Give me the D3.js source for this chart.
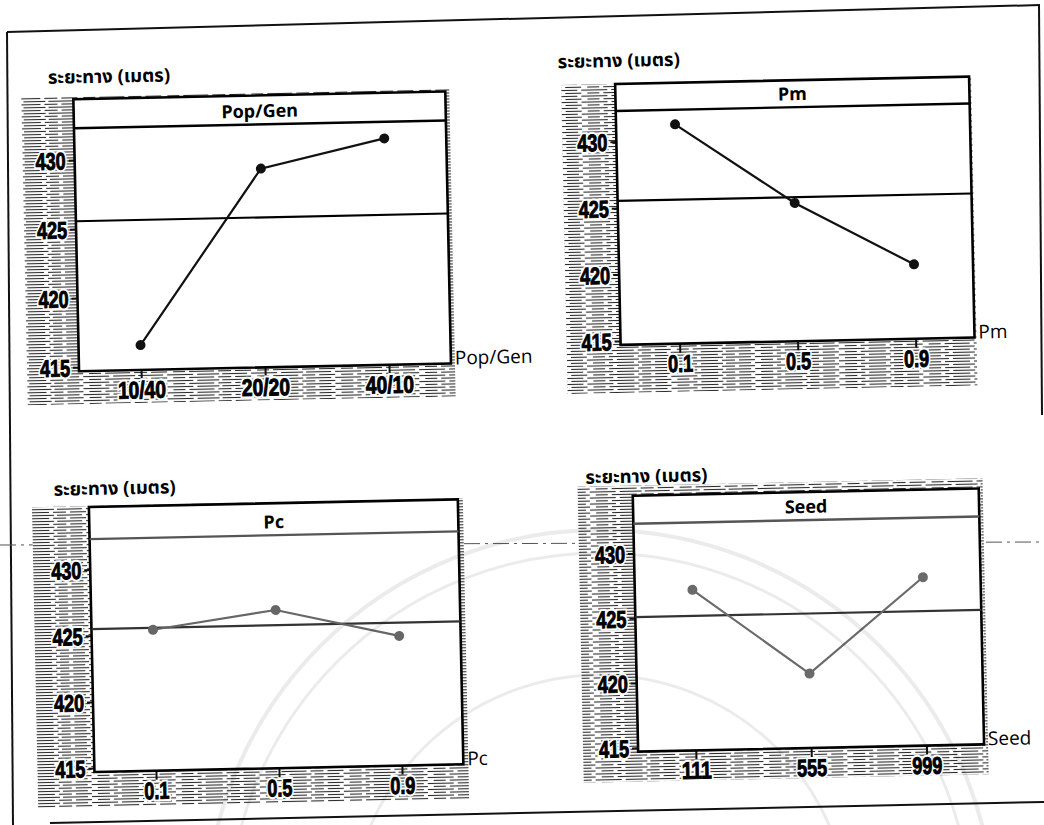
<!DOCTYPE html>
<html>
<head>
<meta charset="utf-8">
<script src="https://cdn.jsdelivr.net/npm/d3@7"></script>
<style>
  body { margin: 0; background: #fff; }
  svg { display: block; }
</style>
</head>
<body>
<svg id="chart" width="1044" height="825"></svg>
<script>
// Main effects plots: mean route distance for each GA parameter level

const yAxisTitle = "ระยะทาง (เมตร)";
const yTicks = [415, 420, 425, 430];
const yDomain = [414.7, 432.3];

const popGenLevels = ["10/40", "20/20", "40/10"];
const popGenMeans  = [416.5, 429.1, 431.1];

const pmLevels = ["0.1", "0.5", "0.9"];
const pmMeans  = [431.2, 425.1, 420.3];

const pcLevels = ["0.1", "0.5", "0.9"];
const pcMeans  = [425.35, 426.65, 424.5];

const seedLevels = ["111", "555", "999"];
const seedMeans  = [427.1, 420.45, 427.7];

const factorNames = ["Pop/Gen", "Pm", "Pc", "Seed"];
const factorLevels = [popGenLevels, pmLevels, pcLevels, seedLevels];
const factorMeans = [popGenMeans, pmMeans, pcMeans, seedMeans];

// panel frames (plot box, title strip, shaded tick area, y title position)
const layout = [
  { x0: 80,  x1: 452, top: 90,  strip: 119, bottom: 362, shade: [28, 87, 456, 395],  title: [55, 74],   ink: "#111" },
  { x0: 622, x1: 976, top: 86,  strip: 113, bottom: 347, shade: [568, 86, 978, 395], title: [565, 69],  ink: "#111" },
  { x0: 87,  x1: 456, top: 498, strip: 530, bottom: 763, shade: [30, 497, 461, 798], title: [52, 486],  ink: "#666" },
  { x0: 631, x1: 977, top: 498, strip: 526, bottom: 754, shade: [576, 488, 981, 784], title: [584, 485], ink: "#6a6a6a" }
];

const svg = d3.select("#chart");
const defs = svg.append("defs");

// halftone-like horizontal dash texture behind the axis labels
const pat = defs.append("pattern")
  .attr("id", "dashfill")
  .attr("patternUnits", "userSpaceOnUse")
  .attr("width", 84).attr("height", 6);
pat.append("rect").attr("width", 84).attr("height", 6).attr("fill", "#fff");
const dashRows = [
  { y: 1.5, segs: [[0, 26], [30, 52], [55, 80]] },
  { y: 4.5, segs: [[6, 18], [22, 47], [51, 64], [68, 84]] }
];
dashRows.forEach(r => r.segs.forEach(s => {
  pat.append("line")
    .attr("x1", s[0]).attr("x2", s[1])
    .attr("y1", r.y).attr("y2", r.y)
    .attr("stroke", "#2a2a2a").attr("stroke-width", 1.1);
}));

// page border and fold line
const page = svg.append("g").attr("fill", "none").attr("stroke", "#111");
page.append("path").attr("d", "M7,32 L1040,5").attr("stroke-width", 2);
page.append("path").attr("d", "M7,32 L13,825").attr("stroke-width", 2);
page.append("path").attr("d", "M1039,5 L1042,415").attr("stroke-width", 2);
page.append("path").attr("d", "M50,823 L1044,802").attr("stroke-width", 2);
page.append("path").attr("d", "M0,545 L1044,542")
  .attr("stroke", "#555").attr("stroke-width", 1)
  .attr("stroke-dasharray", "16,5,3,5");

const root = svg.append("g").attr("transform", "rotate(-1.2, 522, 412)");

const tickFont = "'Liberation Sans', 'Roboto', 'DejaVu Sans', sans-serif";
const textFont = "'Open Sans', 'Noto Sans', sans-serif";
const thaiFont = "'Noto Sans Thai', 'Noto Sans Thai UI', 'Loma', 'Garuda', 'Noto Sans', sans-serif";

// heavy condensed tick labels with a white knock-out behind them
const charWidth = c => (c === "." ? 5 : c === "/" ? 8 : 10);
const labelWidth = s => d3.sum(Array.from(s), charWidth);
function styleTicks(sel, dy) {
  sel.attr("font-family", tickFont).attr("font-weight", "bold")
    .attr("font-size", 24).attr("dy", dy)
    .attr("lengthAdjust", "spacingAndGlyphs")
    .attr("textLength", function () { return labelWidth(this.textContent); });
  sel.each(function () {
    const halo = this.cloneNode(true);
    d3.select(halo).attr("fill", "#fff").attr("stroke", "#fff").attr("stroke-width", 5);
    this.parentNode.insertBefore(halo, this);
  });
  sel.attr("fill", "#000").attr("stroke", "#000").attr("stroke-width", 1);
}

factorNames.forEach((name, i) => {
  const L = layout[i];
  const levels = factorLevels[i];
  const means = factorMeans[i];
  const g = root.append("g");

  const x = d3.scalePoint().domain(levels).range([L.x0, L.x1]).padding(0.5);
  const y = d3.scaleLinear().domain(yDomain).range([L.bottom, L.strip]);

  // shaded label area, then white plot box over it
  g.append("rect")
    .attr("x", L.shade[0]).attr("y", L.shade[1])
    .attr("width", L.shade[2] - L.shade[0]).attr("height", L.shade[3] - L.shade[1])
    .attr("fill", "url(#dashfill)");
  g.append("rect")
    .attr("x", L.x0).attr("y", L.top)
    .attr("width", L.x1 - L.x0).attr("height", L.bottom - L.top)
    .attr("fill", "#fff");

  // y axis
  const yAxis = d3.axisLeft(y).tickValues(yTicks).tickSize(6).tickPadding(3);
  const ya = g.append("g").attr("transform", `translate(${L.x0},0)`).call(yAxis);
  ya.select(".domain").remove();
  ya.selectAll(".tick line").attr("stroke", "#111").attr("stroke-width", 2);
  styleTicks(ya.selectAll(".tick text"), "0.36em");

  // x axis
  const xAxis = d3.axisBottom(x).tickSize(9).tickPadding(6);
  const xa = g.append("g").attr("transform", `translate(0,${L.bottom})`).call(xAxis);
  xa.select(".domain").remove();
  xa.selectAll(".tick line").attr("stroke", "#111").attr("stroke-width", 2);
  styleTicks(xa.selectAll(".tick text"), "0.55em");

  // plot box and title strip
  g.append("rect")
    .attr("x", L.x0).attr("y", L.top)
    .attr("width", L.x1 - L.x0).attr("height", L.bottom - L.top)
    .attr("fill", "none").attr("stroke", "#000").attr("stroke-width", 2.6);
  g.append("line")
    .attr("x1", L.x0).attr("x2", L.x1)
    .attr("y1", L.strip).attr("y2", L.strip)
    .attr("stroke", i >= 2 ? "#555" : "#000").attr("stroke-width", 2.4);
  g.append("text")
    .attr("x", (L.x0 + L.x1) / 2).attr("y", L.strip - 7)
    .attr("text-anchor", "middle")
    .attr("font-family", textFont).attr("font-weight", "bold")
    .attr("font-size", 18).attr("fill", "#000")
    .text(name);

  // grand mean reference line
  const grand = d3.mean(means);
  g.append("line")
    .attr("x1", L.x0).attr("x2", L.x1)
    .attr("y1", y(grand)).attr("y2", y(grand))
    .attr("stroke", i >= 2 ? "#333" : "#000").attr("stroke-width", 2.2);

  // level means
  const pts = levels.map((lv, k) => ({ lv, v: means[k] }));
  g.append("path")
    .datum(pts)
    .attr("fill", "none").attr("stroke", L.ink).attr("stroke-width", 2.2)
    .attr("d", d3.line().x(d => x(d.lv)).y(d => y(d.v)));
  g.selectAll("circle.pt").data(pts).join("circle")
    .attr("class", "pt")
    .attr("cx", d => x(d.lv)).attr("cy", d => y(d.v))
    .attr("r", 5).attr("fill", L.ink);

  // factor name at the end of the x axis
  g.append("text")
    .attr("x", L.x1 + 4).attr("y", L.bottom + 1)
    .attr("font-family", textFont).attr("font-size", 19).attr("fill", "#000")
    .text(name);

  // y axis title
  g.append("text")
    .attr("x", L.title[0]).attr("y", L.title[1])
    .attr("font-family", thaiFont).attr("font-weight", "bold")
    .attr("font-size", 18.5).attr("fill", "#000")
    .text(yAxisTitle);
});

// faint seal in the background of the lower half
const seal = svg.append("g").attr("fill", "none").attr("stroke", "#000").attr("stroke-opacity", 0.08);
[[395, 4], [372, 3], [250, 3]].forEach(([r, w]) => {
  seal.append("circle").attr("cx", 600).attr("cy", 925).attr("r", r).attr("stroke-width", w);
});
</script>
</body>
</html>
